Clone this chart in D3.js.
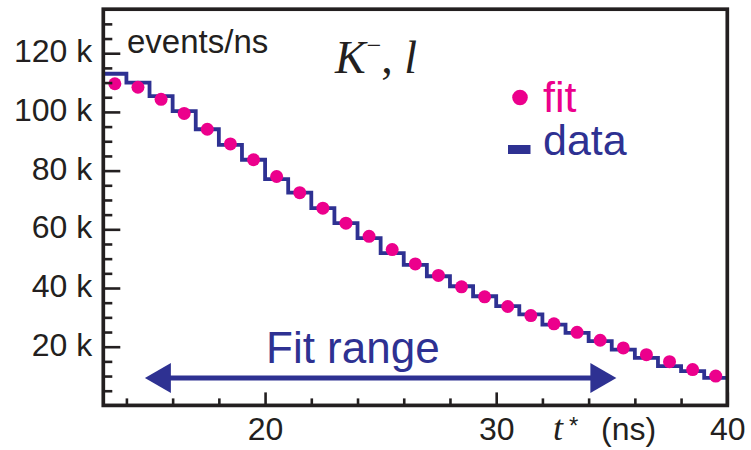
<!DOCTYPE html>
<html>
<head>
<meta charset="utf-8">
<script src="https://cdn.jsdelivr.net/npm/d3@7/dist/d3.min.js"></script>
<style>
  html, body { margin: 0; padding: 0; background: #fff; }
  svg { display: block; }
</style>
</head>
<body>
<svg id="chart" width="751" height="450" font-family="Liberation Sans, Arial, sans-serif"></svg>
<script>
// ---- data ----
const binEdgesStart = 13;           // first bin lower edge (ns)
const binWidth = 1;                  // ns
const dataCounts = [113000, 110000, 105400, 100300, 94100, 88800, 83700, 77100, 72500,
  67200, 62100, 57000, 51900, 47900, 44000, 40600, 37200, 33800, 31000, 27500,
  24700, 21900, 19000, 16200, 13400, 11700, 9400];
const fitCounts = [109600, 108400, 104300, 99500, 94100, 89100, 83700, 78000, 72500,
  67200, 62100, 57600, 53100, 48200, 44300, 40400, 37000, 33700, 30600, 27800,
  24900, 22200, 19600, 17300, 14900, 12200, 10000];
const xMajorTicks = [20, 30, 40];
const xMinorTicks = [14, 16, 18, 22, 24, 26, 28, 32, 34, 36, 38];
const yMajorTicks = [20000, 40000, 60000, 80000, 100000, 120000];
const yMinorTicks = [5000, 10000, 15000, 25000, 30000, 35000, 45000, 50000, 55000, 65000,
  70000, 75000, 85000, 90000, 95000, 105000, 110000, 115000, 125000, 130000];
const fitRange = [14.8, 35.2];
const xDomain = [13, 40];
const yDomain = [0, 135000];

// ---- styles ----
const PINK = "#ec008c", BLUE = "#2e3192", AX = "#231f20";
const SANS = "Liberation Sans, Arial, sans-serif";
const SERIF = "Liberation Serif, Times New Roman, serif";
const L = 103.3, R = 727.3, T = 9.2, B = 405.4;

const svg = d3.select("#chart");
const x = d3.scaleLinear().domain(xDomain).range([L, R]);
const y = d3.scaleLinear().domain(yDomain).range([B, T]);

svg.append("defs").append("clipPath").attr("id", "clip")
  .append("rect").attr("x", L).attr("y", T).attr("width", R - L).attr("height", B - T);

// step line (data)
const stepPts = dataCounts.map((v, i) => [binEdgesStart + i * binWidth, v]);
stepPts.push([binEdgesStart + dataCounts.length * binWidth, dataCounts[dataCounts.length - 1]]);
const stepLine = d3.line().x(d => x(d[0])).y(d => y(d[1])).curve(d3.curveStepAfter);
svg.append("path").attr("clip-path", "url(#clip)")
  .attr("d", stepLine(stepPts))
  .attr("fill", "none").attr("stroke", BLUE).attr("stroke-width", 3.8)
  .attr("stroke-linejoin", "miter");

// fit points
svg.append("g").selectAll("circle").data(fitCounts).join("circle")
  .attr("cx", (d, i) => x(binEdgesStart + (i + 0.5) * binWidth))
  .attr("cy", d => y(d))
  .attr("r", 6.5).attr("fill", PINK);

// axes: left
const yMajAxis = d3.axisLeft(y).tickValues(yMajorTicks)
  .tickSizeInner(-17).tickSizeOuter(0).tickPadding(11)
  .tickFormat(d => (d / 1000) + " k");
const gy = svg.append("g").attr("transform", `translate(${L},0)`).call(yMajAxis);
gy.select(".domain").remove();
gy.selectAll(".tick line").attr("stroke", AX).attr("stroke-width", 2.6);
gy.selectAll(".tick text").attr("fill", AX).style("font-size", "32px")
  .style("font-family", SANS).attr("dy", "0.27em");

const gym = svg.append("g").attr("transform", `translate(${L},0)`)
  .call(d3.axisLeft(y).tickValues(yMinorTicks).tickSizeInner(-9).tickSizeOuter(0).tickFormat(""));
gym.select(".domain").remove();
gym.selectAll(".tick line").attr("stroke", AX).attr("stroke-width", 2.6);

// axes: bottom
const xMajAxis = d3.axisBottom(x).tickValues(xMajorTicks)
  .tickSizeInner(-13).tickSizeOuter(0).tickPadding(12).tickFormat(d3.format("d"));
const gx = svg.append("g").attr("transform", `translate(0,${B})`).call(xMajAxis);
gx.select(".domain").remove();
gx.selectAll(".tick line").attr("stroke", AX).attr("stroke-width", 2.6);
gx.selectAll(".tick text").attr("fill", AX).style("font-size", "32px")
  .style("font-family", SANS);

const gxm = svg.append("g").attr("transform", `translate(0,${B})`)
  .call(d3.axisBottom(x).tickValues(xMinorTicks).tickSizeInner(-7).tickSizeOuter(0).tickFormat(""));
gxm.select(".domain").remove();
gxm.selectAll(".tick line").attr("stroke", AX).attr("stroke-width", 2.6);

// frame
svg.append("rect").attr("x", L).attr("y", T).attr("width", R - L).attr("height", B - T)
  .attr("fill", "none").attr("stroke", AX).attr("stroke-width", 3.7);

// y label inside
svg.append("text").attr("x", 127).attr("y", 53).style("font-size", "33px").style("font-family", SANS)
  .attr("fill", AX).text("events/ns");

// title K^-, l
const title = svg.append("text").attr("x", 335).attr("y", 73)
  .style("font-family", SERIF).style("font-size", "46px").attr("fill", AX);
title.append("tspan").style("font-style", "italic").text("K");
title.append("tspan").style("font-size", "26px").attr("dy", -19).attr("dx", 1).text("−");
title.append("tspan").attr("dy", 19).text(", ");
title.append("tspan").style("font-style", "italic").text("l");

// x label t* (ns)
svg.append("text").attr("x", 553).attr("y", 440)
  .style("font-family", SERIF).style("font-style", "italic")
  .style("font-size", "36px").attr("fill", AX).text("t");
svg.append("text").attr("x", 569).attr("y", 434).style("font-family", SANS)
  .style("font-size", "24px").attr("fill", AX).text("*");
svg.append("text").attr("x", 601).attr("y", 440).style("font-family", SANS)
  .style("font-size", "32px").attr("fill", AX).text("(ns)");

// legend
svg.append("circle").attr("cx", 520).attr("cy", 97.5).attr("r", 7.8).attr("fill", PINK);
svg.append("text").attr("x", 543).attr("y", 112).style("font-family", SANS)
  .style("font-size", "43px").attr("fill", PINK).text("fit");
svg.append("rect").attr("x", 508).attr("y", 145).attr("width", 22.5).attr("height", 9).attr("fill", BLUE);
svg.append("text").attr("x", 543).attr("y", 155).style("font-family", SANS)
  .style("font-size", "43px").attr("fill", BLUE).text("data");

// fit range arrow
const arrowY = 378;
const ax0 = x(fitRange[0]), ax1 = x(fitRange[1]);
const headL = 26, headH = 15;
svg.append("line").attr("x1", ax0 + headL - 2).attr("x2", ax1 - headL + 2)
  .attr("y1", arrowY).attr("y2", arrowY).attr("stroke", BLUE).attr("stroke-width", 5);
svg.append("path").attr("fill", BLUE)
  .attr("d", `M${ax0},${arrowY} L${ax0 + headL},${arrowY - headH} L${ax0 + headL},${arrowY + headH} Z`);
svg.append("path").attr("fill", BLUE)
  .attr("d", `M${ax1},${arrowY} L${ax1 - headL},${arrowY - headH} L${ax1 - headL},${arrowY + headH} Z`);
svg.append("text").attr("x", 266).attr("y", 363).style("font-family", SANS)
  .style("font-size", "44px").attr("fill", BLUE).text("Fit range");
</script>
</body>
</html>
